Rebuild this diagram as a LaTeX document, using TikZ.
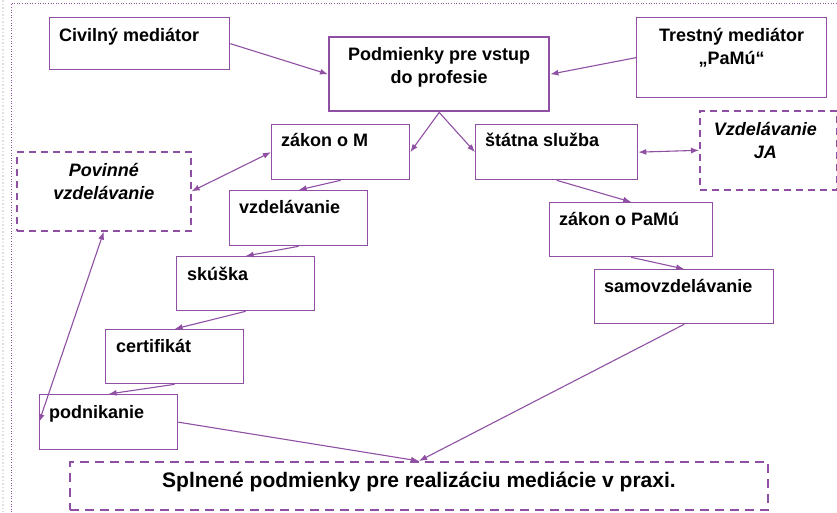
\documentclass[tikz,border=0pt]{standalone}
\usepackage{fontspec}
\setmainfont{Liberation Sans}
\usepackage{tikz}
\usetikzlibrary{arrows.meta}
\definecolor{vio}{RGB}{143,80,163}

\begin{document}
\begin{tikzpicture}[x=1pt,y=-1pt,
  box/.style={draw=vio,line width=1.3pt,anchor=north west,inner sep=0pt},
  dbox/.style={box,line width=1.6pt,dash pattern=on 7pt off 5pt},
  txt/.style={inner sep=0pt,anchor=north west,font=\bfseries\fontsize{18}{23}\selectfont,text height=13pt,text depth=4pt},
  ctxt/.style={inner sep=0pt,anchor=north,align=center,font=\bfseries\fontsize{18}{23}\selectfont},
  con/.style={draw=vio,line width=1.1pt,-{Latex[length=8pt,width=6pt]}},
  dcon/.style={con,{Latex[length=8pt,width=6pt]}-{Latex[length=8pt,width=6pt]}}]
\useasboundingbox (0,0) rectangle (837,512);
\draw[gray!25,line width=1.5pt,dotted] (3,0) -- (3,512);
\draw[vio,line width=0.6pt,dotted] (11,512) -- (11,3) -- (837,3);

\node[box,minimum width=180pt,minimum height=52pt] (civ) at (49,17) {};
\node[txt] (civT) at ([shift={(10,11)}]civ.north west) {Civilný mediátor};
\node[box,line width=2.4pt,minimum width=220pt,minimum height=74pt] (pod) at (328,36) {};
\node[ctxt] (podT) at ([shift={(0,11)}]pod.north) {Podmienky pre vstup\\do profesie};
\node[box,minimum width=190pt,minimum height=80pt] (tres) at (636,17) {};
\node[ctxt] (tresT) at ([shift={(0,11)}]tres.north) {Trestný mediátor\\„PaMú“};

\node[box,minimum width=138pt,minimum height=55pt] (zakM) at (271,124) {};
\node[txt] (zakMT) at ([shift={(10,9)}]zakM.north west) {zákon o M};
\node[box,minimum width=162pt,minimum height=55pt] (stat) at (475,124) {};
\node[txt] (statT) at ([shift={(10,9)}]stat.north west) {štátna služba};
\node[dbox,minimum width=137pt,minimum height=79pt] (vja) at (699,110) {};
\node[ctxt,font=\bfseries\itshape\fontsize{18}{23}\selectfont] (vjaT) at ([shift={(-3,12)}]vja.north) {Vzdelávanie\\JA};
\node[dbox,minimum width=174pt,minimum height=79pt] (pov) at (16,151) {};
\node[ctxt,font=\bfseries\itshape\fontsize{18}{23}\selectfont] (povT) at ([shift={(0,12)}]pov.north) {Povinné\\vzdelávanie};

\node[box,minimum width=138pt,minimum height=55pt] (vzd) at (229,190) {};
\node[txt] (vzdT) at ([shift={(10,10)}]vzd.north west) {vzdelávanie};
\node[box,minimum width=163pt,minimum height=54pt] (zakP) at (549,202) {};
\node[txt] (zakPT) at ([shift={(10,10)}]zakP.north west) {zákon o PaMú};
\node[box,minimum width=138pt,minimum height=54pt] (sku) at (176,256) {};
\node[txt] (skuT) at ([shift={(11,11)}]sku.north west) {skúška};
\node[box,minimum width=179pt,minimum height=54pt] (samo) at (594,269) {};
\node[txt] (samoT) at ([shift={(10,10)}]samo.north west) {samovzdelávanie};
\node[box,minimum width=138pt,minimum height=54pt] (cert) at (105,329) {};
\node[txt] (certT) at ([shift={(11,10)}]cert.north west) {certifikát};
\node[box,minimum width=138pt,minimum height=55pt] (podn) at (39,394) {};
\node[txt] (podnT) at ([shift={(10,11)}]podn.north west) {podnikanie};

\node[dbox,line width=2pt,dash pattern=on 9pt off 6pt,minimum width=698pt,minimum height=48pt] (spl) at (69,461) {};
\node[ctxt,font=\bfseries\fontsize{21}{25}\selectfont] (splT) at ([shift={(0,11)}]spl.north) {Splnené podmienky pre realizáciu mediácie v praxi.};

\draw[con] (civ.east) -- (pod.west);
\draw[con] (tres.west) -- (pod.east);
\draw[con] (pod.south) -- (zakM.east);
\draw[con] (pod.south) -- (stat.west);
\draw[dcon] (zakM.west) -- (pov.east);
\draw[dcon] (stat.east) -- (vja.west);
\draw[con] (zakM.south) -- (vzd.north);
\draw[con] (vzd.south) -- (sku.north);
\draw[con] (sku.south) -- (cert.north);
\draw[con] (cert.south) -- (podn.north);
\draw[dcon] (pov.south) -- (podn.west);
\draw[con] (stat.south) -- (zakP.north);
\draw[con] (zakP.south) -- (samo.north);
\draw[con] (podn.east) -- (spl.north);
\draw[con] (samo.south) -- (spl.north);
\end{tikzpicture}
\end{document}
